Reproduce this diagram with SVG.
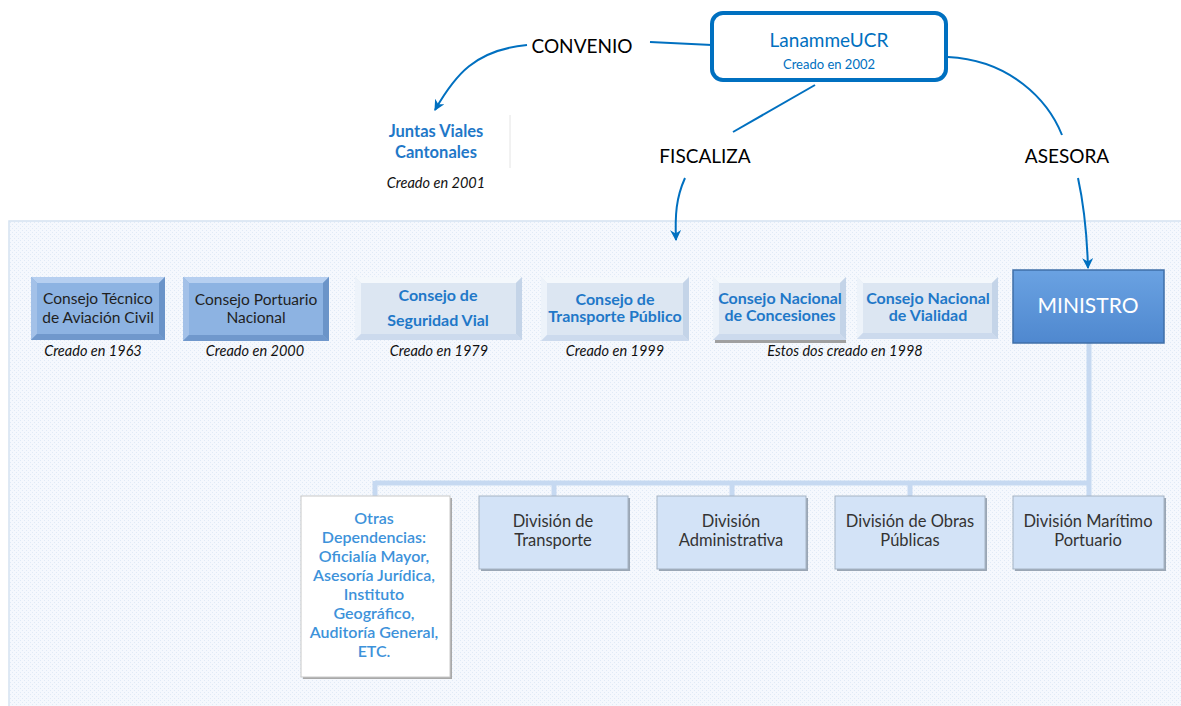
<svg xmlns="http://www.w3.org/2000/svg" width="1181" height="706" viewBox="0 0 1181 706">
<defs>
  <pattern id="dots" width="4" height="4" patternUnits="userSpaceOnUse">
    <rect width="4" height="4" fill="#f5f8fd"/>
    <rect x="0" y="0" width="1" height="1" fill="#e0eaf6"/>
    <rect x="2" y="2" width="1" height="1" fill="#e0eaf6"/>
  </pattern>
  <marker id="arrB" viewBox="0 0 10 10" refX="9" refY="5" markerWidth="11" markerHeight="11" orient="auto" markerUnits="userSpaceOnUse">
    <path d="M0,0 L10,5 L0,10 L3,5 Z" fill="#0070c0"/>
  </marker>
  <linearGradient id="minGrad" x1="0" y1="0" x2="0" y2="1">
    <stop offset="0" stop-color="#6aa2e2"/>
    <stop offset="1" stop-color="#4f88cf"/>
  </linearGradient>
</defs>
<style>
  text { font-family: Lato, "Liberation Sans", sans-serif; text-anchor: middle; }
  .lbl { font-size: 19px; fill: #000; }
  .cre { font-size: 14.5px; font-style: italic; fill: #111; }
  .dark { font-size: 15.5px; fill: #1f1f1f; }
  .blue { font-size: 16px; fill: #1f78c8; font-weight: bold; }
  .div { font-size: 16.5px; fill: #333; }
  .otras { font-size: 16px; fill: #3d92da; font-weight: 600; }
  .conn { fill: none; stroke: #0070c0; stroke-width: 2; }
  .tree { fill: none; stroke: #c6d9f1; stroke-width: 5; }
  .medFace { fill: #8db3e2; }
  .lightFace { fill: #dce6f2; }
  .divBox { fill: #d3e3f7; stroke: #a6b4c4; stroke-width: 1; }
</style>

<!-- background panel -->
<rect x="9" y="221" width="1180" height="490" fill="url(#dots)" stroke="#d5e2f1" stroke-width="1.5"/>

<!-- connectors -->
<g id="connectors">
  <path class="conn" d="M650,42 L712,45"/>
  <path class="conn" d="M527,45 C475,50 455,75 435,110" marker-end="url(#arrB)"/>
  <path class="conn" d="M815,85 L733,132"/>
  <path class="conn" d="M685,178 C676,198 675,215 676,240" marker-end="url(#arrB)"/>
  <path class="conn" d="M948,57 C1010,60 1048,100 1062,135"/>
  <path class="conn" d="M1078,178 C1085,210 1087,235 1088,268" marker-end="url(#arrB)"/>
  <g id="tree">
    <path class="tree" d="M1089,343 L1089,496"/>
    <path class="tree" d="M375,483 L1089,483"/>
    <path class="tree" d="M375,481 L375,496"/>
    <path class="tree" d="M554,481 L554,496"/>
    <path class="tree" d="M732,481 L732,496"/>
    <path class="tree" d="M910,481 L910,496"/>
  </g>
</g>

<!-- Top nodes -->
<g id="lanamme">
  <rect x="712" y="13" width="234" height="67" rx="11" fill="#fff" stroke="#0070c0" stroke-width="4"/>
  <text x="829" y="47" style="font-size:19px;fill:#0070c0">LanammeUCR</text>
  <text x="829" y="69" style="font-size:13px;fill:#0070c0">Creado en 2002</text>
</g>
<g id="convenio"><text class="lbl" x="582" y="53">CONVENIO</text></g>
<g id="fiscaliza"><text class="lbl" x="705" y="163">FISCALIZA</text></g>
<g id="asesora"><text class="lbl" x="1067" y="163">ASESORA</text></g>
<g id="juntas">
  <line x1="510" y1="115" x2="510" y2="168" stroke="#e4e4e4" stroke-width="1"/>
  <text x="436" y="137" style="font-size:16.5px;font-weight:bold;fill:#1f78c8">Juntas Viales</text>
  <text x="436" y="158" style="font-size:16.5px;font-weight:bold;fill:#1f78c8">Cantonales</text>
  <text class="cre" x="436" y="188">Creado en 2001</text>
</g>

<!-- Consejos -->
<g id="consejo-tecnico">
  <rect x="31" y="277" width="134" height="63" fill="#7fa8db"/>
  <polygon points="31,277 165,277 159,283 37,283" fill="#b6cff0"/>
  <polygon points="31,277 37,283 37,334 31,340" fill="#a3c1e8"/>
  <polygon points="165,277 165,340 159,334 159,283" fill="#6b94c8"/>
  <polygon points="31,340 165,340 159,334 37,334" fill="#7098cc"/>
  <rect class="medFace" x="37" y="283" width="122" height="51"/>
  <text class="dark" x="98" y="304">Consejo Técnico</text>
  <text class="dark" x="98" y="323">de Aviación Civil</text>
  <text class="cre" x="93" y="356">Creado en 1963</text>
</g>
<g id="consejo-portuario">
  <rect x="183" y="277" width="146" height="64" fill="#7fa8db"/>
  <polygon points="183,277 329,277 323,283 189,283" fill="#b6cff0"/>
  <polygon points="183,277 189,283 189,335 183,341" fill="#a3c1e8"/>
  <polygon points="329,277 329,341 323,335 323,283" fill="#6b94c8"/>
  <polygon points="183,341 329,341 323,335 189,335" fill="#7098cc"/>
  <rect class="medFace" x="189" y="283" width="134" height="52"/>
  <text class="dark" x="256" y="305">Consejo Portuario</text>
  <text class="dark" x="256" y="323">Nacional</text>
  <text class="cre" x="255" y="356">Creado en 2000</text>
</g>
<g id="consejo-seguridad">
  <rect x="355" y="277" width="167" height="63" fill="#dce6f2"/>
  <polygon points="355,277 522,277 516,283 361,283" fill="#f4f8fc"/>
  <polygon points="355,277 361,283 361,334 355,340" fill="#edf3fa"/>
  <polygon points="522,277 522,340 516,334 516,283" fill="#c4d4e8"/>
  <polygon points="355,340 522,340 516,334 361,334" fill="#ccdaed"/>
  <rect class="lightFace" x="361" y="283" width="155" height="51"/>
  <text class="blue" x="438" y="301">Consejo de</text>
  <text class="blue" x="438" y="326">Seguridad Vial</text>
  <text class="cre" x="439" y="356">Creado en 1979</text>
</g>
<g id="consejo-transporte">
  <rect x="541" y="277" width="148" height="64" fill="#dce6f2"/>
  <polygon points="541,277 689,277 683,283 547,283" fill="#f4f8fc"/>
  <polygon points="541,277 547,283 547,335 541,341" fill="#edf3fa"/>
  <polygon points="689,277 689,341 683,335 683,283" fill="#c4d4e8"/>
  <polygon points="541,341 689,341 683,335 547,335" fill="#ccdaed"/>
  <rect class="lightFace" x="547" y="283" width="136" height="52"/>
  <text class="blue" x="615" y="305">Consejo de</text>
  <text class="blue" x="615" y="322">Transporte Público</text>
  <text class="cre" x="615" y="356">Creado en 1999</text>
</g>
<g id="consejo-concesiones">
  <rect x="715" y="340" width="131" height="3" fill="#a0a0a0"/>
  <rect x="713" y="277" width="133" height="63" fill="#dce6f2"/>
  <polygon points="713,277 846,277 840,283 719,283" fill="#f4f8fc"/>
  <polygon points="713,277 719,283 719,334 713,340" fill="#edf3fa"/>
  <polygon points="846,277 846,340 840,334 840,283" fill="#c4d4e8"/>
  <polygon points="713,340 846,340 840,334 719,334" fill="#ccdaed"/>
  <rect class="lightFace" x="719" y="283" width="121" height="51"/>
  <text class="blue" x="780" y="304">Consejo Nacional</text>
  <text class="blue" x="780" y="321">de Concesiones</text>
</g>
<g id="consejo-vialidad">
  <rect x="857" y="277" width="141" height="62" fill="#dce6f2"/>
  <polygon points="857,277 998,277 992,283 863,283" fill="#f4f8fc"/>
  <polygon points="857,277 863,283 863,333 857,339" fill="#edf3fa"/>
  <polygon points="998,277 998,339 992,333 992,283" fill="#c4d4e8"/>
  <polygon points="857,339 998,339 992,333 863,333" fill="#ccdaed"/>
  <rect class="lightFace" x="863" y="283" width="129" height="50"/>
  <text class="blue" x="928" y="304">Consejo Nacional</text>
  <text class="blue" x="928" y="321">de Vialidad</text>
</g>
<g id="nota-1998"><text class="cre" x="845" y="356">Estos dos creado en 1998</text></g>
<g id="ministro">
  <rect x="1013" y="270" width="151" height="73" fill="url(#minGrad)" stroke="#3f6fa8" stroke-width="1.5"/>
  <text x="1088" y="313" style="font-size:21px;fill:#fff">MINISTRO</text>
</g>

<!-- Divisions -->
<g id="otras">
  <rect x="303" y="498" width="149" height="181" fill="#a8a8a8"/>
  <rect x="301" y="496" width="149" height="181" fill="#fff" stroke="#c8c8c8" stroke-width="1"/>
  <text class="otras" x="374" y="524">Otras</text>
  <text class="otras" x="374" y="543">Dependencias:</text>
  <text class="otras" x="374" y="562">Oficialía Mayor,</text>
  <text class="otras" x="374" y="581">Asesoría Jurídica,</text>
  <text class="otras" x="374" y="600">Instituto</text>
  <text class="otras" x="374" y="619">Geográfico,</text>
  <text class="otras" x="374" y="638">Auditoría General,</text>
  <text class="otras" x="374" y="657">ETC.</text>
</g>
<g id="div-transporte">
  <rect x="481" y="498" width="149" height="73" fill="#9aa6b4"/>
  <rect class="divBox" x="479" y="496" width="149" height="73"/>
  <text class="div" x="553" y="527">División de</text>
  <text class="div" x="553" y="546">Transporte</text>
</g>
<g id="div-administrativa">
  <rect x="659" y="498" width="149" height="73" fill="#9aa6b4"/>
  <rect class="divBox" x="657" y="496" width="149" height="73"/>
  <text class="div" x="731" y="527">División</text>
  <text class="div" x="731" y="546">Administrativa</text>
</g>
<g id="div-obras">
  <rect x="837" y="498" width="150" height="73" fill="#9aa6b4"/>
  <rect class="divBox" x="835" y="496" width="150" height="73"/>
  <text class="div" x="910" y="527">División de Obras</text>
  <text class="div" x="910" y="546">Públicas</text>
</g>
<g id="div-maritimo">
  <rect x="1015" y="498" width="151" height="73" fill="#9aa6b4"/>
  <rect class="divBox" x="1013" y="496" width="151" height="73"/>
  <text class="div" x="1088" y="527">División Marítimo</text>
  <text class="div" x="1088" y="546">Portuario</text>
</g>
</svg>
